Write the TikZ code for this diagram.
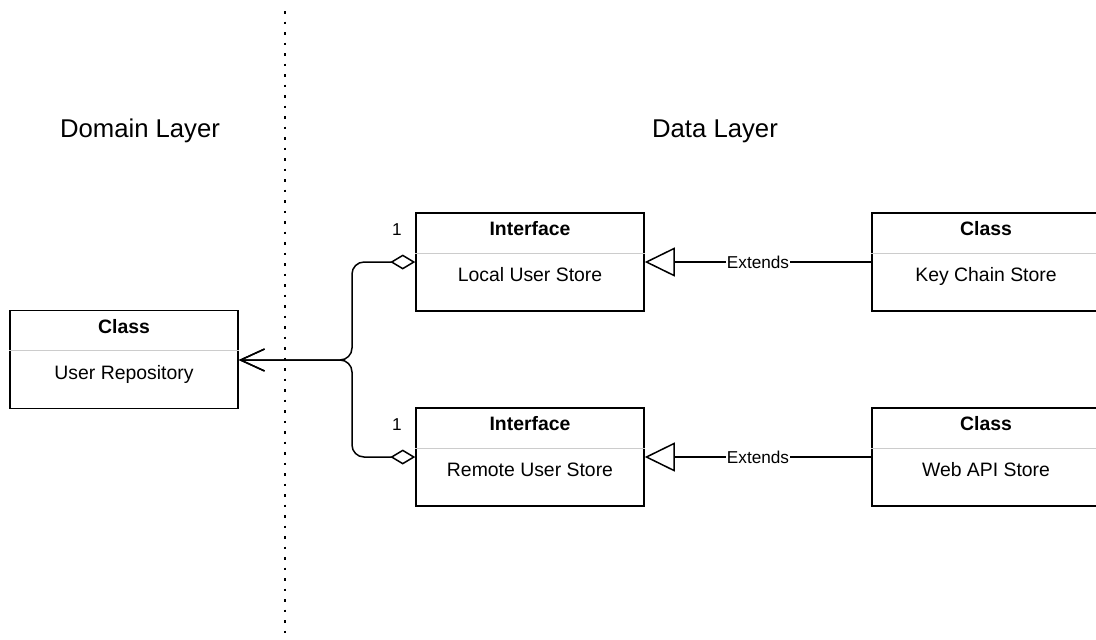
\documentclass[tikz,border=0pt]{standalone}
\usepackage{fontspec}
\setmainfont{Liberation Sans}
\usetikzlibrary{arrows.meta}
\begin{document}
\begin{tikzpicture}[x=0.5pt,y=-0.5pt,
  umlbox/.style={draw=black, line width=0.75pt, minimum width=114pt, minimum height=49pt, inner sep=0pt},
  headtxt/.style={font=\fontsize{9.7pt}{11pt}\selectfont\bfseries, inner sep=0pt, anchor=base},
  bodytxt/.style={font=\fontsize{9.7pt}{11pt}\selectfont, inner sep=0pt, anchor=base},
  divider/.style={draw=black!20, line width=0.6pt},
  titletxt/.style={font=\fontsize{12.85pt}{15pt}\selectfont, inner sep=0pt},
  conn/.style={draw=black, line width=0.75pt},
  lbl/.style={font=\fontsize{8.6pt}{10pt}\selectfont, fill=white, inner sep=0.3pt},
  multtxt/.style={font=\fontsize{8.6pt}{10pt}\selectfont, inner sep=0pt}
]
\useasboundingbox (0,0) rectangle (1096,639);
% layer separator
\coordinate (sepTop) at (285,11);
\coordinate (sepBot) at (285,639);
\draw[line width=1.4pt, dash pattern=on 1.4pt off 3.85pt] (sepTop) -- (sepBot);
% titles
\node[titletxt] (tDomain) at (140,131) {Domain Layer};
\node[titletxt] (tData) at (715,131) {Data Layer};
% boxes
\node[umlbox] (rep) at (124,359.5) {};
\node[umlbox] (lus) at (530,262) {};
\node[umlbox] (rus) at (530,457) {};
\node[umlbox] (kcs) at (986,262) {};
\node[umlbox] (web) at (986,457) {};
% dividers and texts
\foreach \b/\h/\t in {rep/Class/User Repository, lus/Interface/Local User Store, rus/Interface/Remote User Store, kcs/Class/Key Chain Store, web/Class/Web API Store}{
  \draw[divider] ([yshift=-20.5pt]\b.north west) -- ([yshift=-20.5pt]\b.north east);
  \node[headtxt] (\b-h) at ([yshift=-11.8pt]\b.north) {\h};
  \node[bodytxt] (\b-t) at ([yshift=-34.7pt]\b.north) {\t};
}
% aggregation connectors
\coordinate (trunk) at (352,360);
\draw[conn, rounded corners=6pt, {Diamond[open, length=12.5pt, width=7.5pt, line width=0.75pt]}-{Straight Barb[length=12pt, width=11pt, line width=0.75pt]}]
  (lus.west) -- (lus.west -| trunk) -- (trunk) -- (rep.east |- trunk);
\draw[conn, rounded corners=6pt, {Diamond[open, length=12.5pt, width=7.5pt, line width=0.75pt]}-{Straight Barb[length=12pt, width=11pt, line width=0.75pt]}]
  (rus.west) -- (rus.west -| trunk) -- (trunk) -- (rep.east |- trunk);
\node[multtxt] (m1) at (397,230) {1};
\node[multtxt] (m2) at (397,425) {1};
% generalisation connectors
\draw[conn, -{Triangle[open, length=15pt, width=14.5pt, line width=0.75pt]}] (kcs.west) -- node[lbl] (e1) {Extends} (lus.east);
\draw[conn, -{Triangle[open, length=15pt, width=14.5pt, line width=0.75pt]}] (web.west) -- node[lbl] (e2) {Extends} (rus.east);
\end{tikzpicture}
\end{document}
